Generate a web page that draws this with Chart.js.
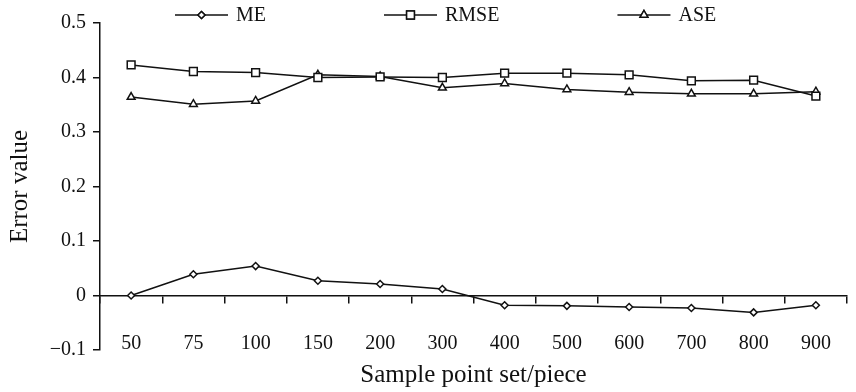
<!DOCTYPE html>
<html>
<head>
<meta charset="utf-8">
<script src="https://cdn.jsdelivr.net/npm/chart.js@4/dist/chart.umd.min.js"></script>
<style>
  html, body { margin: 0; padding: 0; background: #fff; }
  #wrap { width: 856px; height: 392px; }
</style>
</head>
<body>
<div id="wrap"><canvas id="errChart"></canvas></div>
<script>
// categories (sample point set sizes)
const categories = ['50', '75', '100', '150', '200', '300', '400', '500', '600', '700', '800', '900'];

// series
const meValues   = [0.000, 0.039, 0.054, 0.027, 0.021, 0.012, -0.018, -0.019, -0.021, -0.023, -0.031, -0.018];
const rmseValues = [0.423, 0.411, 0.409, 0.400, 0.401, 0.400, 0.408, 0.408, 0.405, 0.394, 0.395, 0.366];
const aseValues  = [0.364, 0.351, 0.357, 0.405, 0.402, 0.381, 0.389, 0.378, 0.373, 0.370, 0.370, 0.374];

// y tick values and their labels
const yTickValues = [-0.1, 0, 0.1, 0.2, 0.3, 0.4, 0.5];
const yTickLabels = ['\u22120.1', '0', '0.1', '0.2', '0.3', '0.4', '0.5'];

const serif = '"Liberation Serif", "Times New Roman", serif';
Chart.defaults.font.family = serif;
Chart.defaults.color = '#111';

// legend drawn as line + marker, like the original figure
const lineLegend = {
  id: 'lineLegend',
  afterDraw(chart) {
    const ctx = chart.ctx;
    const y = 15;
    let x = 175;
    ctx.save();
    ctx.font = '20px ' + serif;
    ctx.textBaseline = 'middle';
    ctx.fillStyle = '#111';
    chart.data.datasets.forEach(ds => {
      ctx.strokeStyle = '#111';
      ctx.lineWidth = 1.5;
      ctx.beginPath();
      ctx.moveTo(x, y);
      ctx.lineTo(x + 53, y);
      ctx.stroke();
      ctx.fillStyle = '#fff';
      Chart.helpers.drawPoint(ctx, {
        pointStyle: ds.pointStyle,
        radius: ds.pointRadius,
        borderWidth: 1.5
      }, x + 26.5, y);
      ctx.fill();
      ctx.stroke();
      ctx.fillStyle = '#111';
      ctx.fillText(ds.label, x + 61, y + 1);
      x += 61 + ctx.measureText(ds.label).width + 118;
    });
    ctx.restore();
  }
};

const whiteBg = {
  id: 'whiteBg',
  beforeDraw(chart) {
    const ctx = chart.ctx;
    ctx.save();
    ctx.fillStyle = '#fff';
    ctx.fillRect(0, 0, chart.width, chart.height);
    ctx.restore();
  }
};

function series(label, data, style, radius) {
  return {
    label: label,
    data: data,
    borderColor: '#111',
    borderWidth: 1.5,
    tension: 0,
    pointStyle: style,
    pointRadius: radius,
    pointHoverRadius: radius,
    pointBackgroundColor: '#fff',
    pointBorderColor: '#111',
    pointBorderWidth: 1.5
  };
}

new Chart(document.getElementById('errChart'), {
  type: 'line',
  data: {
    labels: categories,
    datasets: [
      series('ME', meValues, 'rectRot', 3.5),
      series('RMSE', rmseValues, 'rect', 5.5),
      series('ASE', aseValues, 'triangle', 4.5)
    ]
  },
  options: {
    responsive: true,
    maintainAspectRatio: false,
    animation: false,
    layout: { padding: { top: 23, right: 9, bottom: 0, left: 0 } },
    plugins: {
      legend: { display: false },
      tooltip: { enabled: false }
    },
    scales: {
      x: {
        type: 'category',
        offset: true,
        grid: { display: false },
        border: { display: false },
        ticks: { mirror: true, padding: -6, font: { size: 20 }, color: '#111', autoSkip: false, maxRotation: 0 },
        title: { display: true, text: 'Sample point set/piece', font: { size: 25 }, color: '#111', padding: { top: 0, bottom: 2 } },
        afterFit: s => { s.height = 42; }
      },
      // zero line with category tick marks
      x2: {
        type: 'category',
        axis: 'x',
        position: { y: 0 },
        offset: true,
        grid: { display: true, offset: true, drawOnChartArea: false, drawTicks: true, tickLength: 7, color: '#111', lineWidth: 1.5 },
        border: { display: true, color: '#111', width: 1.5 },
        ticks: { display: false },
        afterFit: s => { s.height = 0; }
      },
      y: {
        min: -0.1,
        max: 0.5,
        afterBuildTicks: s => { s.ticks = yTickValues.map(v => ({ value: v })); },
        grid: { display: true, drawOnChartArea: false, drawTicks: true, tickLength: 7, color: '#111', lineWidth: 1.5 },
        border: { display: true, color: '#111', width: 1.5 },
        ticks: {
          padding: 7,
          font: { size: 20 },
          color: '#111',
          callback: (v, i) => yTickLabels[i]
        },
        title: { display: true, text: 'Error value', font: { size: 25 }, color: '#111', padding: { top: 5, bottom: 0 } },
        afterFit: s => { s.width = 100; }
      }
    }
  },
  plugins: [whiteBg, lineLegend]
});
</script>
</body>
</html>
